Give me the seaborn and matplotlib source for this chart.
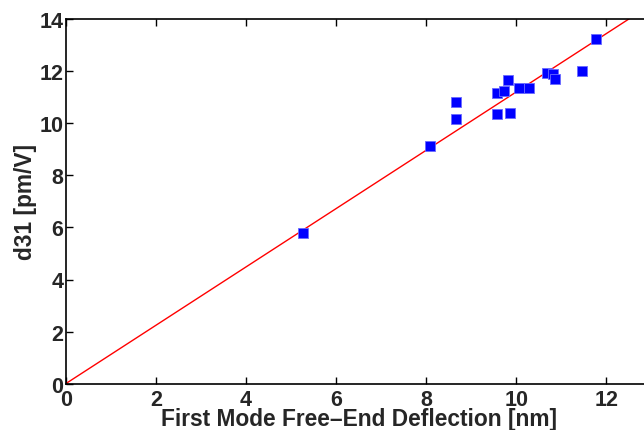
import numpy as np
import pandas as pd
import matplotlib.pyplot as plt
import seaborn as sns

# Data
deflection = [5.27, 8.09, 8.67, 8.67, 9.57, 9.72, 9.82, 9.57, 9.87,
              10.07, 10.29, 10.68, 10.81, 10.87, 11.47, 11.77]
d31 = [5.78, 9.12, 10.83, 10.15, 11.17, 11.22, 11.66, 10.35, 10.39,
       11.34, 11.36, 11.94, 11.89, 11.70, 12.00, 13.23]

# Linear fit through the origin
fit_slope = 1.12
fit_x = np.array([0.0, 13.0])
fit_y = fit_slope * fit_x

x_ticks = [0, 2, 4, 6, 8, 10, 12]
y_ticks = [0, 2, 4, 6, 8, 10, 12, 14]

TEXT_COLOR = '#262626'

sns.set_style('ticks')
plt.rcParams['font.family'] = ['Liberation Sans', 'DejaVu Sans']

df = pd.DataFrame({'deflection': deflection, 'd31': d31})
fit_df = pd.DataFrame({'x': fit_x, 'y': fit_y})

fig = plt.figure(figsize=(6.44, 4.31), dpi=100)
ax = fig.add_axes([65.7 / 644, (431 - 384.7) / 431, 585.7 / 644, 364.7 / 431])

sns.lineplot(data=fit_df, x='x', y='y', ax=ax, color='#ff0000', linewidth=1.0)
sns.scatterplot(data=df, x='deflection', y='d31', ax=ax, marker='s', s=60,
                color='#0000ff', edgecolor='#6a6aff', linewidth=0.6, zorder=3)

ax.set_xlim(0, 13)
ax.set_ylim(0, 14)
ax.set_xticks(x_ticks)
ax.set_yticks(y_ticks)
ax.tick_params(direction='in', length=5, width=1, top=True, right=True,
               labelsize=15.5, colors='black', labelcolor=TEXT_COLOR)
ax.tick_params(axis='x', pad=4)
ax.tick_params(axis='y', pad=1.5)
for lab in ax.get_xticklabels() + ax.get_yticklabels():
    lab.set_fontweight('bold')
for spine in ax.spines.values():
    spine.set_visible(True)
    spine.set_color('black')
    spine.set_linewidth(1.2)

ax.set_xlabel('First Mode Free\u2013End Deflection [nm]', fontsize=16.4,
              fontweight='bold', color=TEXT_COLOR, va='baseline')
# baseline of the x label sits just above the bottom edge, as in the reference
ax.xaxis.set_label_coords(0.5, -(426.5 - 384.7) / 364.7)
ax.set_ylabel('d31 [pm/V]', fontsize=16.4, fontweight='bold',
              color=TEXT_COLOR, labelpad=2)

fig.savefig('out.png', dpi=100)
